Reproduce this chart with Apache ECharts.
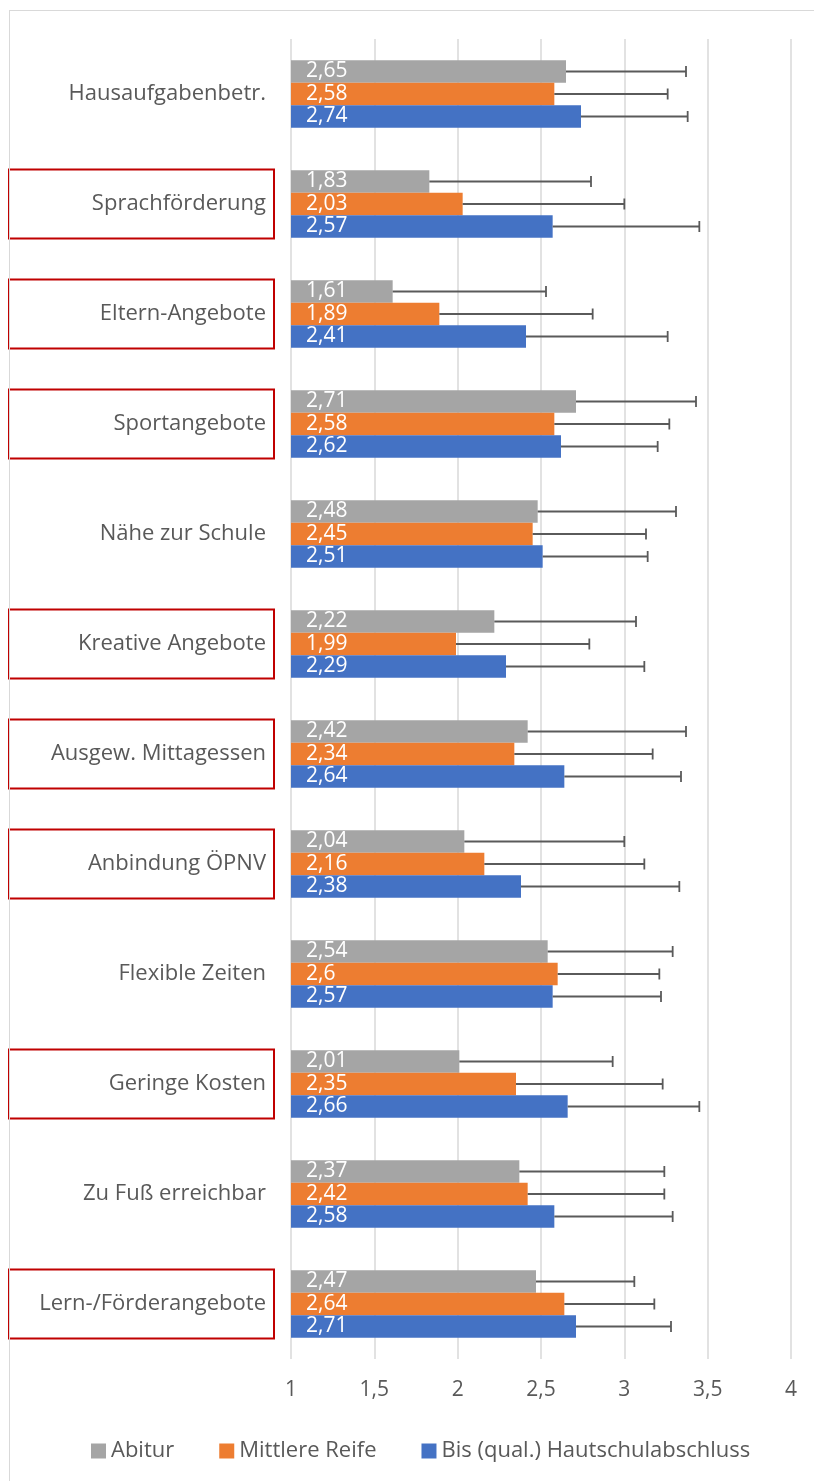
<!DOCTYPE html>
<html>
<head>
<meta charset="utf-8">
<script src="https://cdn.jsdelivr.net/npm/echarts@6/dist/echarts.min.js"></script>
<style>
  body { margin: 0; background: #fff; }
  #main { width: 814px; height: 1481px; }
  /* grauer Rahmen oben/links wie im Excel-Export */
  #frame { position: absolute; left: 9px; top: 10px; width: 820px; height: 1490px;
           border-left: 1px solid #d9d9d9; border-top: 1px solid #d9d9d9; pointer-events: none; }
</style>
</head>
<body>
<div id="main"></div>
<div id="frame"></div>
<script>
// Kategorien von oben nach unten
const categories = ['Hausaufgabenbetr.', 'Sprachförderung', 'Eltern-Angebote', 'Sportangebote',
  'Nähe zur Schule', 'Kreative Angebote', 'Ausgew. Mittagessen', 'Anbindung ÖPNV',
  'Flexible Zeiten', 'Geringe Kosten', 'Zu Fuß erreichbar', 'Lern-/Förderangebote'];

// rot umrandete Kategorien
const boxed = ['Sprachförderung', 'Eltern-Angebote', 'Sportangebote', 'Kreative Angebote',
  'Ausgew. Mittagessen', 'Anbindung ÖPNV', 'Geringe Kosten', 'Lern-/Förderangebote'];

const seriesNames = ['Abitur', 'Mittlere Reife', 'Bis (qual.) Hautschulabschluss'];
const colors = ['#a5a5a5', '#ed7d31', '#4472c4'];

// Mittelwerte
const abitur = [2.65, 1.83, 1.61, 2.71, 2.48, 2.22, 2.42, 2.04, 2.54, 2.01, 2.37, 2.47];
const mittlere = [2.58, 2.03, 1.89, 2.58, 2.45, 1.99, 2.34, 2.16, 2.6, 2.35, 2.42, 2.64];
const haupt = [2.74, 2.57, 2.41, 2.62, 2.51, 2.29, 2.64, 2.38, 2.57, 2.66, 2.58, 2.71];

// Fehlerbalken (nur plus-Richtung)
const errAbitur = [0.72, 0.97, 0.92, 0.72, 0.83, 0.85, 0.95, 0.96, 0.75, 0.92, 0.87, 0.59];
const errMittlere = [0.68, 0.97, 0.92, 0.69, 0.68, 0.80, 0.83, 0.96, 0.61, 0.88, 0.82, 0.54];
const errHaupt = [0.64, 0.88, 0.85, 0.58, 0.63, 0.83, 0.70, 0.95, 0.65, 0.79, 0.71, 0.57];

const xTicks = { min: 1, max: 4, interval: 0.5 };

const FONT = '"Open Sans"';
const TEXT = '#595959';
const GAP = 0.386; // barCategoryGap

const means = [abitur, mittlere, haupt];
const errs = [errAbitur, errMittlere, errHaupt];

const fmt = v => String(v).replace('.', ',');

// Fehlerbalken als custom series
function errorRender(idx) {
  return function (params, api) {
    const cat = api.value(0);
    const mean = api.value(1);
    const err = api.value(2);
    const start = api.coord([mean, cat]);
    const end = api.coord([mean + err, cat]);
    const band = api.size([0, 1])[1];
    const w = band * (1 - GAP) / 3;
    const y = start[1] - 1.5 * w + w * (idx + 0.5);
    const style = { stroke: '#5a5a5a', lineWidth: 1.8 };
    return {
      type: 'group',
      children: [
        { type: 'line', shape: { x1: start[0], y1: y, x2: end[0], y2: y }, style: style },
        { type: 'line', shape: { x1: end[0], y1: y - 5.5, x2: end[0], y2: y + 5.5 }, style: style }
      ]
    };
  };
}

const series = [];
means.forEach((arr, i) => {
  series.push({
    name: seriesNames[i],
    type: 'bar',
    data: arr,
    itemStyle: { color: colors[i] },
    barGap: '0%',
    barCategoryGap: (GAP * 100) + '%',
    label: {
      show: true,
      position: 'insideLeft',
      distance: 15,
      color: '#fff',
      fontSize: 21,
      fontFamily: FONT,
      formatter: p => fmt(p.value)
    }
  });
});
means.forEach((arr, i) => {
  series.push({
    type: 'custom',
    renderItem: errorRender(i),
    encode: { x: [1, 2], y: 0 },
    data: arr.map((v, k) => [k, v, errs[i][k]]),
    z: 5,
    silent: true
  });
});

const chart = echarts.init(document.getElementById('main'));
chart.setOption({
  animation: false,
  textStyle: { fontFamily: FONT },
  grid: { left: 291, right: 23, top: 39, bottom: 122 },
  legend: {
    data: seriesNames,
    top: 1435,
    left: 86,
    itemWidth: 15,
    itemHeight: 15,
    itemGap: 45,
    icon: 'rect',
    textStyle: { fontSize: 22, color: TEXT, fontFamily: FONT }
  },
  xAxis: {
    type: 'value',
    min: xTicks.min,
    max: xTicks.max,
    interval: xTicks.interval,
    axisLine: { show: false },
    axisTick: { show: false },
    splitLine: { lineStyle: { color: '#d9d9d9', width: 1.5 } },
    axisLabel: { fontSize: 21, color: TEXT, fontFamily: FONT, margin: 21, formatter: v => fmt(v) }
  },
  yAxis: {
    type: 'category',
    data: categories,
    inverse: true,
    axisLine: { show: false },
    axisTick: { show: false },
    axisLabel: {
      margin: 17,
      fontSize: 22,
      color: TEXT,
      fontFamily: FONT,
      formatter: v => (boxed.includes(v) ? '{box|' + v + '}' : '{n|' + v + '}'),
      rich: {
        box: {
          width: 249, height: 69, padding: [0, 8, 0, 8], align: 'right',
          borderColor: '#c00000', borderWidth: 2,
          fontSize: 22, color: TEXT, fontFamily: FONT
        },
        n: { padding: [0, 8, 0, 0], fontSize: 22, color: TEXT, fontFamily: FONT }
      }
    }
  },
  series: series
});
</script>
</body>
</html>
